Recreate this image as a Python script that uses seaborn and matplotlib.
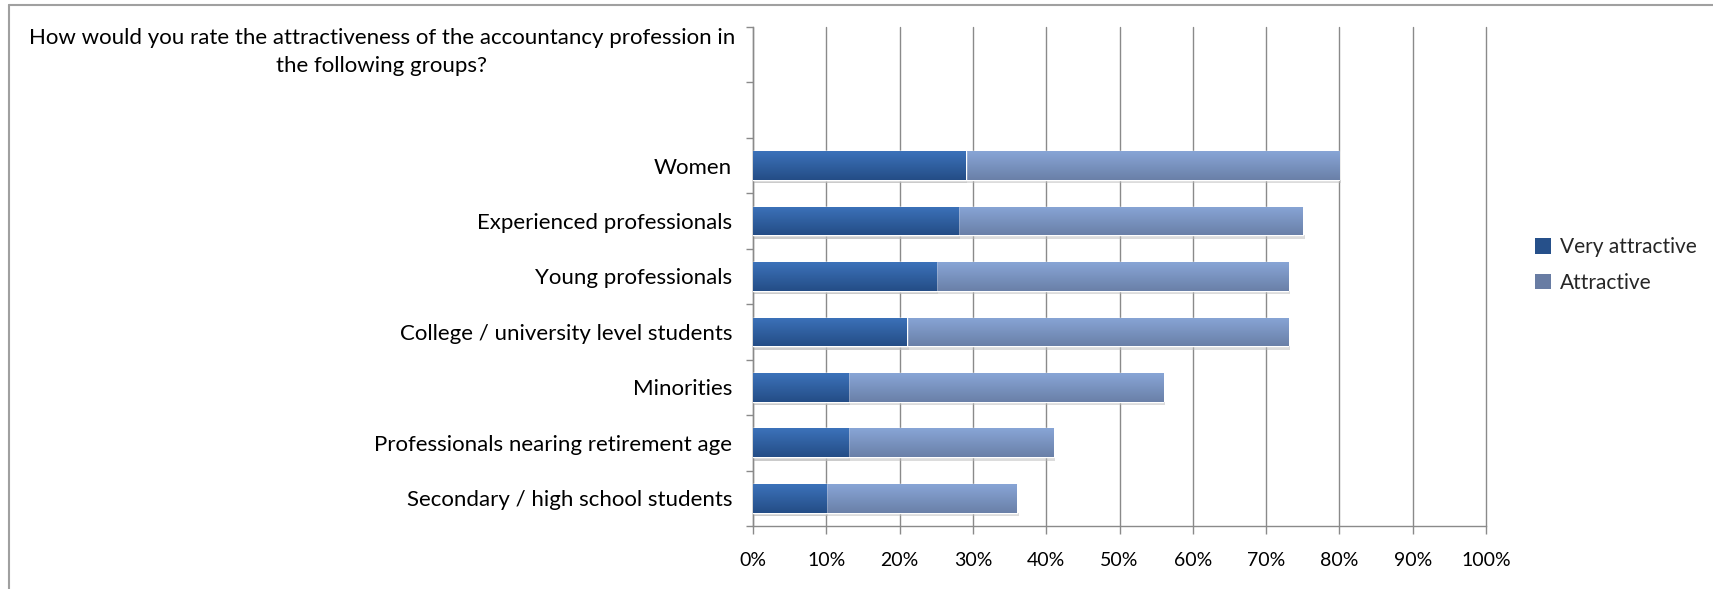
import numpy as np
import pandas as pd
import seaborn as sns
import matplotlib.pyplot as plt
from matplotlib.lines import Line2D
from matplotlib.patches import Patch
from matplotlib.ticker import MultipleLocator, FuncFormatter

## Data
groups = ["Women", "Experienced professionals", "Young professionals",
          "College / university level students", "Minorities",
          "Professionals nearing retirement age", "Secondary / high school students"]
very_attractive = [29, 28, 25, 21, 13, 13, 10]
attractive = [51, 47, 48, 52, 43, 28, 26]
title = "How would you rate the attractiveness of the accountancy profession in\nthe following groups?"

df = pd.DataFrame({"group": groups, "very": very_attractive, "attr": attractive})
df["total"] = df["very"] + df["attr"]

sns.set_theme(style="white")
plt.rcParams["font.family"] = ["Lato", "DejaVu Sans"]

dark = "#2d5c9c"
light = "#7a96c6"

fig = plt.figure(figsize=(17.13, 5.89), dpi=100)
ax = fig.add_axes([753 / 1713, 1 - 526 / 589, 733 / 1713, (526 - 27) / 589])

## stacked: draw the total first, then the dark part over it
sns.barplot(data=df, y="group", x="total", color=light, saturation=1,
            width=0.52, orient="h", ax=ax, zorder=3)
sns.barplot(data=df, y="group", x="very", color=dark, saturation=1,
            width=0.52, orient="h", ax=ax, zorder=4)

## gradient shading on the bars (lighter top, darker bottom)
grad = np.linspace(0, 1, 64).reshape(-1, 1)
for p in ax.patches:
    x0, y0 = p.get_x(), p.get_y()
    w, h = p.get_width(), p.get_height()
    top = "#3c72ba" if p.get_zorder() == 4 else "#88a5d6"
    bot = "#244d86" if p.get_zorder() == 4 else "#6a80a8"
    cmap = sns.blend_palette([top, bot], as_cmap=True)
    im = ax.imshow(grad, cmap=cmap, aspect="auto", extent=(x0, x0 + w, y0 + h, y0),
                   zorder=p.get_zorder(), interpolation="bilinear")
    im.set_clip_path(p)
    # soft shadow under the bar
    ax.fill_between([x0 + 0.15, x0 + w + 0.25], y0 + h, y0 + h + 0.06,
                    color="#bbbbbb", alpha=0.5, lw=0, zorder=2)

ax.set_xlim(0, 100)
ax.set_ylim(6.5, -2.5)
ax.set_xlabel("")
ax.set_ylabel("")

ax.xaxis.set_major_locator(MultipleLocator(10))
ax.xaxis.set_major_formatter(FuncFormatter(lambda v, _: f"{v:.0f}%"))
ax.grid(axis="x", color="#8a8a8a", lw=1, zorder=0)
ax.set_axisbelow(True)
for gl in ax.get_xgridlines():
    gl.set_clip_on(False)

ax.set_yticks(range(len(groups)))
ax.set_yticklabels(groups)
ax.set_yticks(np.arange(-2.5, 6.6, 1), minor=True)
ax.tick_params(axis="y", which="major", length=0, pad=15, labelsize=16, colors="black")
ax.tick_params(axis="y", which="minor", left=True, length=5, width=1, color="#8a8a8a")
ax.tick_params(axis="x", bottom=True, length=6, width=1, color="#8a8a8a",
               pad=13, labelsize=14, labelcolor="black")

for s in ["top", "right"]:
    ax.spines[s].set_visible(False)
for s in ["left", "bottom"]:
    ax.spines[s].set_color("#8a8a8a")
    ax.spines[s].set_linewidth(1)

fig.text(382 / 1713, 1 - 52 / 589, title, ha="center", va="center",
         fontsize=16, linespacing=1.45, color="black")

handles = [Patch(facecolor="#26508a", edgecolor="none"),
           Patch(facecolor="#687ca3", edgecolor="none")]
fig.legend(handles, ["Very attractive", "Attractive"], loc="center left",
           bbox_to_anchor=(1535 / 1713, 1 - 265 / 589), frameon=False,
           fontsize=15, handlelength=0.75, handleheight=0.75, handletextpad=0.45,
           labelspacing=0.75, borderpad=0, borderaxespad=0)

## light grey frame around the chart area
fig.add_artist(Line2D([9 / 1713, 9 / 1713], [0, 1 - 5 / 589], color="#a0a0a0", lw=1.5))
fig.add_artist(Line2D([9 / 1713, 1], [1 - 5 / 589, 1 - 5 / 589], color="#a0a0a0", lw=1.5))

fig.savefig("out.png", dpi=100, facecolor="white")
